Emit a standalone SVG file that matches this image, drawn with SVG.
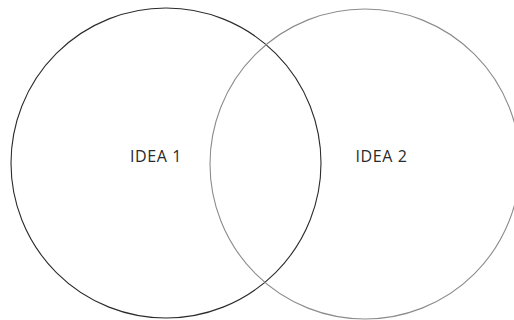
<svg xmlns="http://www.w3.org/2000/svg" width="514" height="320" viewBox="0 0 514 320">
<style>
.c{fill:none;stroke-width:1.1}
.t{font-family:"Open Sans","Noto Sans",sans-serif;font-size:16px;letter-spacing:0.6px;fill:#2a2a2a;text-anchor:middle}
</style>
<rect width="514" height="320" fill="#fff"/>
<g id="idea1">
<circle class="c" cx="166" cy="163" r="155" stroke="#2b2b2b"/>
<text class="t" x="156" y="162">IDEA 1</text>
</g>
<g id="idea2">
<circle class="c" cx="365" cy="164" r="155" stroke="#8c8c8c"/>
<text class="t" x="381.5" y="162">IDEA 2</text>
</g>
<g id="connectors"></g>
</svg>
